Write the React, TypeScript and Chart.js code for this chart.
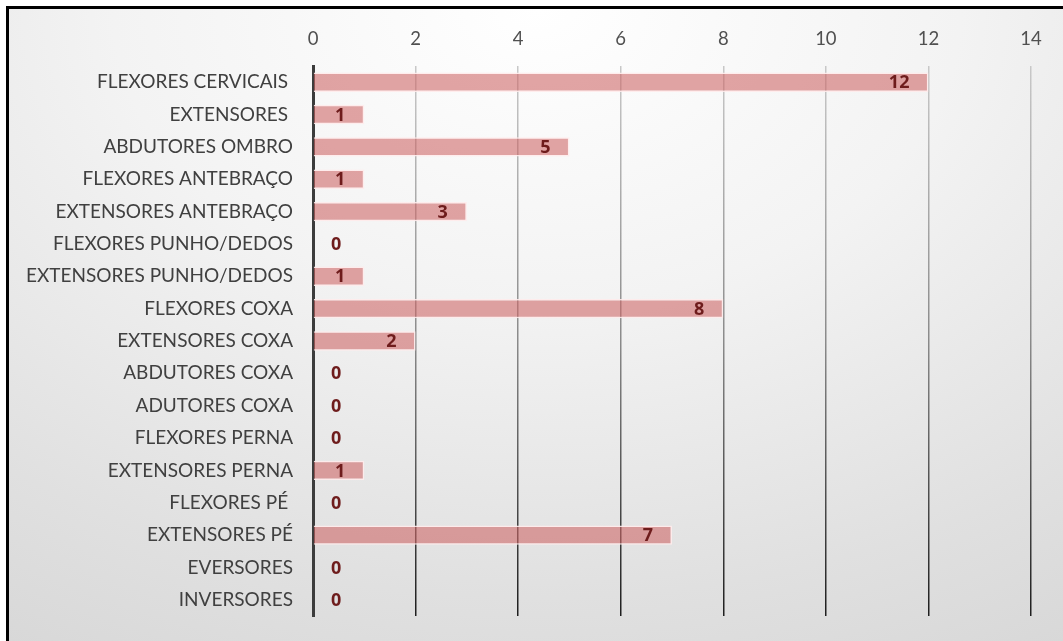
import React, { useEffect, useRef } from "react";
import { Chart, registerables } from "chart.js";

Chart.register(...registerables);

const categories = [
  "FLEXORES CERVICAIS ",
  "EXTENSORES ",
  "ABDUTORES OMBRO",
  "FLEXORES ANTEBRAÇO",
  "EXTENSORES ANTEBRAÇO",
  "FLEXORES PUNHO/DEDOS",
  "EXTENSORES PUNHO/DEDOS",
  "FLEXORES COXA",
  "EXTENSORES COXA",
  "ABDUTORES COXA",
  "ADUTORES COXA",
  "FLEXORES PERNA",
  "EXTENSORES PERNA",
  "FLEXORES PÉ ",
  "EXTENSORES PÉ",
  "EVERSORES",
  "INVERSORES",
];
const values = [12, 1, 5, 1, 3, 0, 1, 8, 2, 0, 0, 0, 1, 0, 7, 0, 0];
const xMin = 0;
const xMax = 14;
const xStep = 2;

const FONT = "Lato, 'Open Sans', sans-serif";
const BOLD_FONT = "'Open Sans', 'Noto Sans', sans-serif";

const labelPlugin = {
  id: "barLabels",
  afterDatasetsDraw(chart: any) {
    const ctx = chart.ctx;
    const meta = chart.getDatasetMeta(0);
    const xs = chart.scales.x;
    const base = xs.getPixelForValue(0);
    ctx.save();
    ctx.font = `bold 18px ${BOLD_FONT}`;
    ctx.fillStyle = "#6e1c1c";
    ctx.textBaseline = "middle";
    meta.data.forEach((bar: any, i: number) => {
      const v = values[i];
      const txt = String(v);
      if (v === 0) {
        ctx.textAlign = "left";
        ctx.fillText(txt, base + 18, bar.y + 1);
      } else {
        ctx.textAlign = "right";
        ctx.fillText(txt, bar.x - 19, bar.y + 1);
      }
    });
    ctx.restore();
  },
};

export default function App() {
  const ref = useRef<HTMLCanvasElement>(null);
  useEffect(() => {
    if (!ref.current) return;
    const chart = new Chart(ref.current, {
      type: "bar",
      data: {
        labels: categories,
        datasets: [
          {
            data: values,
            backgroundColor: "rgba(205, 100, 100, 0.58)",
            borderColor: "rgba(255, 235, 235, 0.9)",
            borderWidth: 1.5,
            barPercentage: 0.6,
            categoryPercentage: 1,
          },
        ],
      },
      options: {
        indexAxis: "y",
        animation: false,
        responsive: false,
        maintainAspectRatio: false,
        layout: { padding: { left: 0, right: 32, top: 0, bottom: 25 } },
        plugins: { legend: { display: false }, tooltip: { enabled: false } },
        scales: {
          x: {
            position: "top",
            min: xMin,
            max: xMax,
            ticks: {
              stepSize: xStep,
              color: "#505050",
              font: { family: FONT, size: 18.5 },
              padding: 16,
            },
            grid: {
              drawTicks: false,
              lineWidth: 1.5,
              color: (c: any) => {
                const ch = c.chart;
                const area = ch.chartArea;
                if (!area) return "#999";
                const g = ch.ctx.createLinearGradient(0, area.top, 0, area.bottom);
                g.addColorStop(0, "#c8c8c8");
                g.addColorStop(0.5, "#8a8a8a");
                g.addColorStop(1, "#1e1e1e");
                return g;
              },
            },
            border: { display: false },
            afterFit: (s: any) => {
              s.height = 66;
            },
          },
          y: {
            ticks: {
              color: "#404040",
              font: { family: FONT, size: 19 },
              padding: 20,
              autoSkip: false,
            },
            grid: { display: false, drawTicks: false },
            border: { display: true, color: "#3c3c3c", width: 3 },
            afterFit: (s: any) => {
              s.width = 313;
              s.paddingTop = 0;
              s.paddingBottom = 0;
            },
          },
        },
      },
      plugins: [labelPlugin],
    } as any);
    return () => chart.destroy();
  }, []);

  return (
    <div
      style={{
        position: "fixed",
        left: 0,
        top: 0,
        width: 1063,
        height: 641,
        overflow: "hidden",
      }}
    >
      <div
        style={{
          position: "absolute",
          left: 6,
          top: 6,
          width: 1100,
          height: 700,
          border: "3px solid #000",
          background:
            "radial-gradient(ellipse 110% 120% at 48% 0%, #ffffff 0%, #f3f3f3 35%, #e0e0e0 70%, #d2d2d2 100%)",
        }}
      />
      <canvas
        ref={ref}
        width={1063}
        height={641}
        style={{ position: "absolute", left: 0, top: 0, width: 1063, height: 641 }}
      />
    </div>
  );
}
